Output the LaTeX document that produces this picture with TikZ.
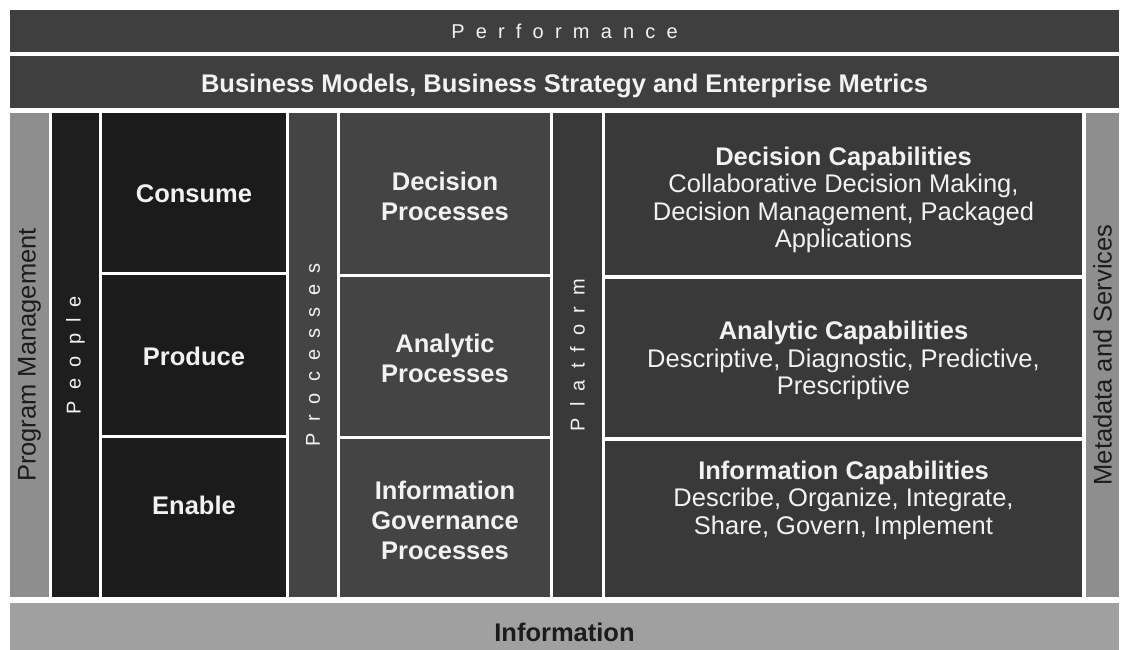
\documentclass[tikz,border=0pt]{standalone}
\usepackage{fontspec}
\setmainfont{Liberation Sans}
\usepackage{xcolor}
\usepackage{tikz}
\usetikzlibrary{positioning}

\definecolor{barGrey}{HTML}{3F3F3F}
\definecolor{sideGrey}{HTML}{8E8E8E}
\definecolor{baseGrey}{HTML}{A0A0A0}
\definecolor{peopleDark}{HTML}{1E1E1E}
\definecolor{roleDark}{HTML}{1B1B1B}
\definecolor{procGrey}{HTML}{444444}
\definecolor{platGrey}{HTML}{393939}
\definecolor{lightText}{HTML}{F2F2F2}
\definecolor{darkText}{HTML}{1C1C1C}

\newcommand\tracked[1]{{\addfontfeature{LetterSpace=56}#1}}
% move a text block up (+) or down (-) inside its box
\newcommand\nudge[2]{\raisebox{#1}[\height][\depth]{\begin{tabular}{@{}c@{}}#2\end{tabular}}}

\begin{document}
\begin{tikzpicture}[x=1pt, y=-1pt,
block/.style 2 args={inner sep=0pt, outer sep=0pt, align=center,
    minimum width=#1, minimum height=#2, text=lightText},
head/.style={font=\fontsize{20}{24}\selectfont},
bold/.style={font=\fontsize{25.5}{30}\selectfont\bfseries},
caps/.style={font=\fontsize{25.5}{27.5}\selectfont},
side/.style={font=\fontsize{25.5}{28}\selectfont, text=darkText, rotate=90}]

\def\mainH{484}
\def\midY{355}

% BACKGROUND
\fill[white] (0,0) rectangle (1121,650);
\useasboundingbox (0,0) rectangle (1121,650);

% top bars
\node[block={1109}{42}, head, fill=barGrey] (perf) at (564.5,31) {\tracked{Performance}};
\node[block={1109}{52}, bold, fill=barGrey] (business) at (564.5,82)
    {\nudge{-5pt}{Business Models, Business Strategy and Enterprise Metrics}};

% side columns
\node[block={\mainH}{39}, side, fill=sideGrey] (progmgmt) at (29.5,\midY) {Program Management};
\node[block={\mainH}{33}, side, fill=sideGrey] (metadata) at (1102.5,\midY) {Metadata and Services};

% PEOPLE
\node[block={\mainH}{47}, head, rotate=90, fill=peopleDark] (people) at (75.5,\midY) {\tracked{People}};
\node[block={184}{159}, bold, fill=roleDark] (consume) at (194,192.5) {\nudge{-4pt}{Consume}};
\node[block={184}{160}, bold, fill=roleDark] (produce) at (194,355) {\nudge{-4pt}{Produce}};
\node[block={184}{159}, bold, fill=roleDark] (enable) at (194,517.5) {\nudge{9pt}{Enable}};

% PROCESSES
\node[block={\mainH}{48}, head, rotate=90, fill=procGrey] (processes) at (313,\midY) {\tracked{Processes}};
\node[block={210}{161}, bold, fill=procGrey] (decisionproc) at (445,193.5)
    {\nudge{-6pt}{Decision\\Processes}};
\node[block={210}{159}, bold, fill=procGrey] (analyticproc) at (445,356.5)
    {\nudge{-5pt}{Analytic\\Processes}};
\node[block={210}{158}, bold, fill=procGrey] (govproc) at (445,518)
    {\nudge{-5pt}{Information\\Governance\\Processes}};

% PLATFORM
\node[block={\mainH}{49}, head, rotate=90, fill=platGrey] (platform) at (577.5,\midY) {\tracked{Platform}};
\node[block={477}{162}, caps, fill=platGrey] (decisioncap) at (843.5,194)
    {\nudge{-7pt}{\textbf{Decision Capabilities}\\Collaborative Decision Making,\\Decision Management, Packaged\\Applications}};
\node[block={477}{158}, caps, fill=platGrey] (analyticcap) at (843.5,358)
    {\nudge{-3.5pt}{\textbf{Analytic Capabilities}\\Descriptive, Diagnostic, Predictive,\\Prescriptive}};
\node[block={477}{156}, caps, fill=platGrey] (infocap) at (843.5,519)
    {\nudge{18pt}{\textbf{Information Capabilities}\\Describe, Organize, Integrate,\\Share, Govern, Implement}};

% base bar
\node[block={1109}{47}, bold, text=darkText, fill=baseGrey] (information) at (564.5,626.5)
    {\nudge{-9pt}{Information}};

\end{tikzpicture}
\end{document}
